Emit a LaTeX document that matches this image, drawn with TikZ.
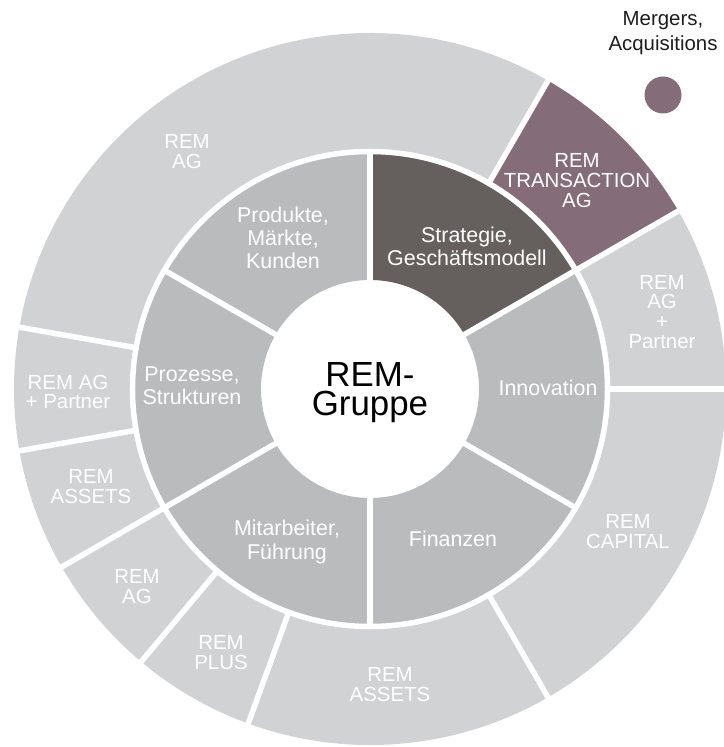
\documentclass[tikz,border=0pt]{standalone}
\usepackage{fontspec}
\setmainfont{Liberation Sans}
\definecolor{outerg}{RGB}{209,210,211}
\definecolor{innerg}{RGB}{186,187,189}
\definecolor{darkg}{RGB}{101,96,93}
\definecolor{mauve}{RGB}{132,108,121}
\definecolor{txt}{RGB}{30,30,30}
\tikzset{
  outerlbl/.style={align=center, text=white, inner sep=0pt, font=\fontsize{20.5}{20}\selectfont},
  innerlbl/.style={align=center, text=white, inner sep=0pt, font=\fontsize{21.5}{23.3}\selectfont},
  centerlbl/.style={text=black, inner sep=0pt, anchor=base, font=\fontsize{35}{35}\selectfont},
  gap/.style={draw=white, line width=5.5bp},
}
\newcommand{\sector}[5]{% color, a1, a2, r1, r2
  \fill[#1] (#2:#4) arc[start angle=#2, end angle=#3, radius=#4] -- (#3:#5) arc[start angle=#3, end angle=#2, radius=#5] -- cycle;}
\begin{document}
\begin{tikzpicture}[x=1bp,y=1bp]
\useasboundingbox[fill=white] (-370,-358) rectangle (354,389);
% outer ring
\sector{outerg}{60}{170}{237.5bp}{356bp}
\sector{mauve}{30}{60}{237.5bp}{356bp}
\sector{outerg}{0}{30}{237.5bp}{356bp}
\sector{outerg}{-60}{0}{237.5bp}{356bp}
\sector{outerg}{250}{300}{237.5bp}{356bp}
\sector{outerg}{230}{250}{237.5bp}{356bp}
\sector{outerg}{210}{230}{237.5bp}{356bp}
\sector{outerg}{190}{210}{237.5bp}{356bp}
\sector{outerg}{170}{190}{237.5bp}{356bp}
% inner ring
\sector{darkg}{30}{90}{109bp}{237.5bp}
\sector{innerg}{90}{150}{109bp}{237.5bp}
\sector{innerg}{150}{210}{109bp}{237.5bp}
\sector{innerg}{210}{270}{109bp}{237.5bp}
\sector{innerg}{270}{330}{109bp}{237.5bp}
\sector{innerg}{-30}{30}{109bp}{237.5bp}
% gaps
\draw[gap] (0,0) circle[radius=237.5bp];
\foreach \a in {30,90,150,210,270,330}{\draw[gap] (\a:100bp) -- (\a:240bp);}
\foreach \a in {0,30,60,170,190,210,230,250,300}{\draw[gap] (\a:235bp) -- (\a:362bp);}
% labels (image px -> (x-370, 389-y))
\node[centerlbl, text depth=0pt] (center1) at (0,2.3) {REM-};
\node[centerlbl, text height=24bp] (center2) at (0,-26) {Gruppe};
\node[innerlbl] (strat) at (97,143) {Strategie,\\Geschäftsmodell};
\node[innerlbl] (prod) at (-87,151) {Produkte,\\Märkte,\\Kunden};
\node[innerlbl] (proz) at (-178,3) {Prozesse,\\Strukturen};
\node[innerlbl] (mitar) at (-83,-153) {Mitarbeiter,\\Führung};
\node[innerlbl] (fin) at (83,-150) {Finanzen};
\node[innerlbl] (inno) at (178,1) {Innovation};
\node[outerlbl] (ag1) at (-183,237) {REM\\AG};
\node[outerlbl] (trans) at (207,208) {REM\\TRANSACTION\\AG};
\node[outerlbl] (agp1) at (292,77) {REM\\AG\\+\\Partner};
\node[outerlbl] (cap) at (258,-143) {REM\\CAPITAL};
\node[outerlbl] (ass1) at (20,-296) {REM\\ASSETS};
\node[outerlbl] (plus) at (-149,-264) {REM\\PLUS};
\node[outerlbl] (ag2) at (-233,-198) {REM\\AG};
\node[outerlbl] (ass2) at (-279,-98) {REM\\ASSETS};
\node[outerlbl] (agp2) at (-302,-3) {REM AG\\+ Partner};
\node[align=center, text=txt, inner sep=0pt, font=\fontsize{20.5}{25}\selectfont] (merg) at (293,356) {Mergers,\\Acquisitions};
\fill[mauve] (293,294) circle[radius=18.5bp];
\end{tikzpicture}
\end{document}
